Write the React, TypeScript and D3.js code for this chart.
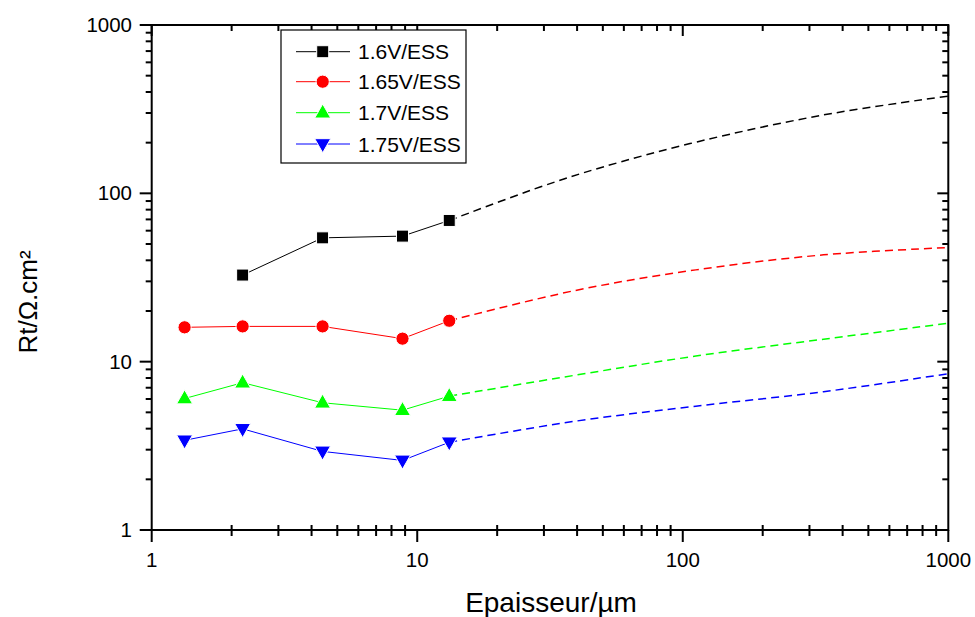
import React from "react";
import * as d3 from "d3";

const seriesNames = ["1.6V/ESS", "1.65V/ESS", "1.7V/ESS", "1.75V/ESS"];
const seriesColors = ["#000000", "#ff0000", "#00ff00", "#0000ff"];
const seriesSymbols = ["square", "circle", "triangle", "triangleDown"];

// measured thickness (µm)
const thicknessAll = [1.33, 2.2, 4.4, 8.8, 13.2];
const thicknessBlack = [2.2, 4.4, 8.8, 13.2];

const rt16 = [32.7, 54.4, 55.7, 69.0];
const rt165 = [16.0, 16.2, 16.2, 13.7, 17.5];
const rt17 = [6.04, 7.5, 5.7, 5.15, 6.24];
const rt175 = [3.41, 3.99, 2.93, 2.59, 3.32];

// extrapolated (dashed) curves
const fitX16 = [13.2, 29, 49, 116, 338, 1000];
const fitY16 = [69.0, 109, 142, 204, 292, 378];
const fitX = [13.2, 39, 112, 339, 1000];
const fitY165 = [17.5, 26.4, 35.1, 43.1, 47.6];
const fitY17 = [6.24, 8.29, 10.8, 13.6, 16.9];
const fitY175 = [3.32, 4.42, 5.44, 6.63, 8.48];

const xTickValues = [1, 10, 100, 1000];
const yTickValues = [1, 10, 100, 1000];
const xLabel = "Epaisseur/µm";
const yLabel = "Rt/Ω.cm²";

const W = 975;
const H = 617;
const L = 151.7;
const R = 948.3;
const T = 25;
const B = 530;

const FONT = "'Liberation Sans', Arial, Helvetica, sans-serif";

function minorTicks(): number[] {
  const out: number[] = [];
  for (let d = 1; d < 1000; d *= 10) {
    for (let k = 2; k <= 9; k++) out.push(d * k);
  }
  return out;
}

function Marker({ type, x, y, color }: { type: string; x: number; y: number; color: string }) {
  const s = 12;
  if (type === "square") {
    return <rect x={x - s / 2} y={y - s / 2} width={s} height={s} fill={color} stroke="#fff" strokeWidth={1} />;
  }
  if (type === "circle") {
    return <circle cx={x} cy={y} r={6.6} fill={color} stroke="#fff" strokeWidth={1} />;
  }
  const w = 16;
  const h = 14;
  if (type === "triangle") {
    const pts = `${x},${y - h * 0.62} ${x - w / 2},${y + h * 0.38} ${x + w / 2},${y + h * 0.38}`;
    return <polygon points={pts} fill={color} stroke="#fff" strokeWidth={1} />;
  }
  const pts = `${x},${y + h * 0.62} ${x - w / 2},${y - h * 0.38} ${x + w / 2},${y - h * 0.38}`;
  return <polygon points={pts} fill={color} stroke="#fff" strokeWidth={1} />;
}

export default function App() {
  const x = d3.scaleLog().domain([1, 1000]).range([L, R]);
  const y = d3.scaleLog().domain([1, 1000]).range([B, T]);

  const dataSets = [
    { xs: thicknessBlack, ys: rt16, fx: fitX16, fy: fitY16 },
    { xs: thicknessAll, ys: rt165, fx: fitX, fy: fitY165 },
    { xs: thicknessAll, ys: rt17, fx: fitX, fy: fitY17 },
    { xs: thicknessAll, ys: rt175, fx: fitX, fy: fitY175 },
  ];

  const lineGen = d3
    .line<[number, number]>()
    .x((d) => x(d[0]))
    .y((d) => y(d[1]));
  const curveGen = d3
    .line<[number, number]>()
    .x((d) => x(d[0]))
    .y((d) => y(d[1]))
    .curve(d3.curveCatmullRom.alpha(0.5));

  const minors = minorTicks();

  const legendX = 281;
  const legendY = 30;
  const legendW = 185;
  const legendH = 133;
  const rowY = [51.7, 81.7, 112.7, 144];

  return (
    <svg
      width={W}
      height={H}
      style={{ position: "absolute", left: 0, top: 0, display: "block", background: "#fff" }}
      fontFamily={FONT}
    >
      <rect x={0} y={0} width={W} height={H} fill="#fff" />

      {/* series */}
      {dataSets.map((ds, i) => {
        const pts: [number, number][] = ds.xs.map((v, j) => [v, ds.ys[j]]);
        const fit: [number, number][] = ds.fx.map((v, j) => [v, ds.fy[j]]);
        return (
          <g key={i}>
            <path d={curveGen(fit) || ""} fill="none" stroke={seriesColors[i]} strokeWidth={1.5} strokeDasharray="8,5" />
            <path d={lineGen(pts) || ""} fill="none" stroke={seriesColors[i]} strokeWidth={1} />
            {pts.map((p, j) => (
              <Marker key={j} type={seriesSymbols[i]} x={x(p[0])} y={y(p[1])} color={seriesColors[i]} />
            ))}
          </g>
        );
      })}

      {/* frame */}
      <rect x={L} y={T} width={R - L} height={B - T} fill="none" stroke="#000" strokeWidth={2} />

      {/* bottom / top axis ticks */}
      {xTickValues.map((v) => (
        <g key={"xb" + v}>
          <line x1={x(v)} x2={x(v)} y1={B} y2={B + 12} stroke="#000" strokeWidth={2} />
          <line x1={x(v)} x2={x(v)} y1={T} y2={T + 11} stroke="#000" strokeWidth={2} />
          <text x={x(v)} y={567} textAnchor="middle" fontSize={20.5}>
            {v}
          </text>
        </g>
      ))}
      {minors.map((v) => (
        <g key={"xm" + v}>
          <line x1={x(v)} x2={x(v)} y1={B} y2={B + 6} stroke="#000" strokeWidth={2} />
          <line x1={x(v)} x2={x(v)} y1={B} y2={B - 5} stroke="#000" strokeWidth={2} />
          <line x1={x(v)} x2={x(v)} y1={T} y2={T + 6} stroke="#000" strokeWidth={2} />
        </g>
      ))}

      {/* left/right axis ticks */}
      {yTickValues.map((v) => (
        <g key={"yl" + v}>
          <line x1={L - 12} x2={L} y1={y(v)} y2={y(v)} stroke="#000" strokeWidth={2} />
          <line x1={R - 11} x2={R} y1={y(v)} y2={y(v)} stroke="#000" strokeWidth={2} />
          <text x={132} y={y(v) + 7} textAnchor="end" fontSize={20.5}>
            {v}
          </text>
        </g>
      ))}
      {minors.map((v) => (
        <g key={"ym" + v}>
          <line x1={L - 6} x2={L} y1={y(v)} y2={y(v)} stroke="#000" strokeWidth={2} />
          <line x1={R - 6} x2={R} y1={y(v)} y2={y(v)} stroke="#000" strokeWidth={2} />
        </g>
      ))}

      {/* axis titles */}
      <text x={551} y={612} textAnchor="middle" fontSize={28}>
        {xLabel}
      </text>
      <text transform={`translate(37,302) rotate(-90)`} textAnchor="middle" fontSize={26}>
        {yLabel}
      </text>

      {/* legend */}
      <rect x={legendX} y={legendY} width={legendW} height={legendH} fill="#fff" stroke="#000" strokeWidth={1.2} />
      {seriesNames.map((name, i) => (
        <g key={name}>
          <line x1={296} x2={350} y1={rowY[i]} y2={rowY[i]} stroke={seriesColors[i]} strokeWidth={1} />
          <Marker type={seriesSymbols[i]} x={322.7} y={rowY[i]} color={seriesColors[i]} />
          <text x={358} y={rowY[i] + 7.5} fontSize={21}>
            {name}
          </text>
        </g>
      ))}
    </svg>
  );
}
